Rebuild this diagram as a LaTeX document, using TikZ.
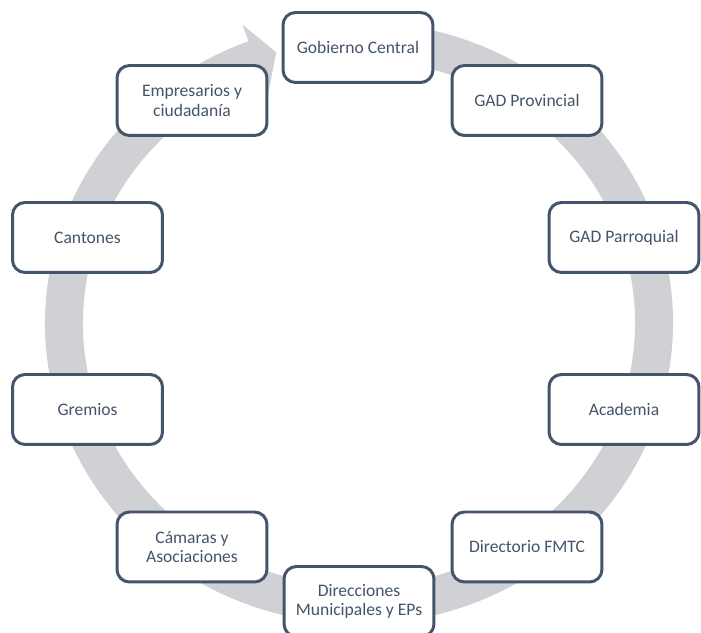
\documentclass[tikz,border=0pt]{standalone}
\usepackage{fontspec}
\setmainfont{Carlito}

\begin{document}
\begin{tikzpicture}[x=0.02cm, y=0.02cm,
  actor/.style={draw=boxcolor, line width=1.7pt, rounded corners=0.25cm, fill=white,
    minimum width=3.0cm, minimum height=1.4cm, align=center, text=boxcolor,
    font=\fontsize{10}{11}\selectfont}]
  % Define colors
  \definecolor{boxcolor}{RGB}{68,84,106} % Dark slate for boxes and text
  \definecolor{ringcolor}{RGB}{208,209,212} % Light grey for the cycle

  \useasboundingbox (0,0) rectangle (701,633);

  % Draw the cycle arrow (clockwise, ends at the top)
  \begin{scope}[shift={(359,310)}]
    \draw[ringcolor, line width=0.76cm] (80:295 and 282) arc[start angle=80, end angle=-250, x radius=295, y radius=282];
    \fill[ringcolor] (110.6:332 and 319) -- (106.3:295 and 282) -- (110.6:258 and 245) -- cycle;
  \end{scope}

  % Draw the actors (clockwise from the top)
  \node[actor] (gob) at (358,585.5) {Gobierno Central};
  \node[actor] (prov) at (527,532.5) {GAD Provincial};
  \node[actor] (parr) at (624,395.5) {GAD Parroquial};
  \node[actor] (acad) at (624,223.5) {Academia};
  \node[actor] (fmtc) at (527,86) {Directorio FMTC};
  \node[actor] (dir) at (359,31.5) {Direcciones\\Municipales y EPs};
  \node[actor] (cam) at (192,86) {Cámaras y\\Asociaciones};
  \node[actor] (grem) at (87.5,223.5) {Gremios};
  \node[actor] (cant) at (87.5,395.5) {Cantones};
  \node[actor] (emp) at (192,532.5) {Empresarios y\\ciudadanía};
\end{tikzpicture}
\end{document}
